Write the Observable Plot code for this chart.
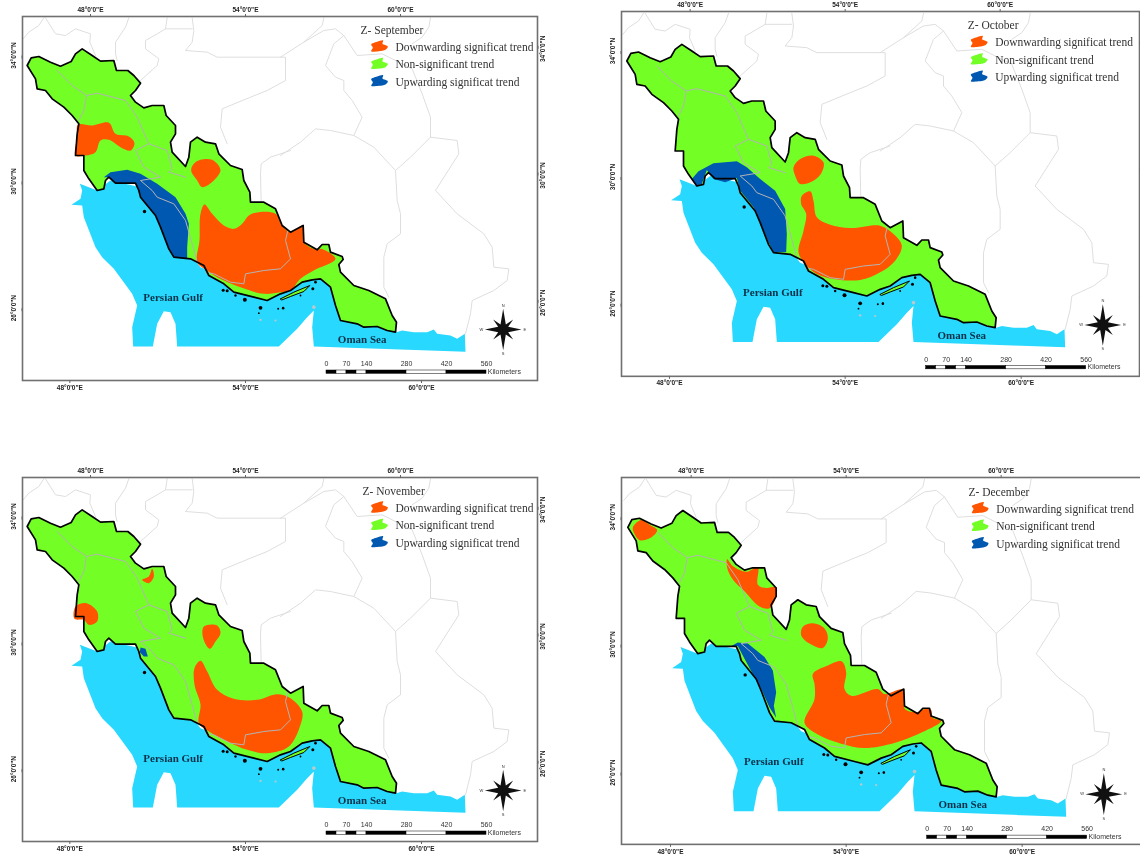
<!DOCTYPE html>
<html><head><meta charset="utf-8">
<script src="https://cdn.jsdelivr.net/npm/d3@7"></script>
<script src="https://cdn.jsdelivr.net/npm/@observablehq/plot@0.6"></script>
<style>
html,body{margin:0;padding:0;background:#fff;overflow:hidden;width:1140px;height:854px}
#page{position:relative;width:1140px;height:854px;overflow:hidden}
#page svg{position:absolute;overflow:visible;filter:blur(0.45px);background:transparent}
</style></head><body><div id="page"></div>
<script>
const months = ["September","October","November","December"];
const trendLabels = ["Downwarding significat trend","Non-significant trend","Upwarding significat trend"];
const trendColors = ["#ff5500","#73ff26","#0058b0"];
const gulfColor = "#29d8ff";

const province = [[80,195],[92,172],[115,168],[150,185],[180,197],[212,183],[225,160],[245,145],[275,165],[300,182],[340,180],[348,210],[382,210],[400,225],[420,248],[405,270],[390,285],[405,305],[430,322],[455,315],[490,315],[497,345],[525,375],[525,400],[510,425],[515,455],[555,498],[565,470],[570,425],[590,410],[615,425],[645,430],[655,460],[690,495],[725,507],[730,540],[748,575],[750,605],[790,605],[825,625],[845,675],[870,695],[908,675],[910,725],[950,748],[965,732],[985,732],[990,755],[1025,768],[1028,777],[1015,792],[1020,815],[1060,855],[1105,870],[1155,895],[1175,945],[1188,965],[1185,995],[1160,990],[1130,978],[1090,980],[1070,970],[1020,960],[1005,915],[990,860],[960,835],[935,838],[905,845],[870,870],[840,880],[800,900],[760,890],[700,875],[670,850],[625,825],[610,795],[570,775],[520,770],[505,745],[480,680],[465,645],[420,590],[415,570],[405,548],[380,548],[345,548],[325,530],[315,540],[310,565],[290,570],[265,535],[250,510],[250,465],[225,465],[230,400],[235,370],[215,345],[190,320],[155,295],[135,270],[110,265],[105,235]];
const qeshm = [[840,895],[880,875],[928,855],[910,873],[870,888],[845,898]];
const gulf = [[238,550],[290,570],[330,540],[420,560],[600,800],[800,880],[960,825],[1000,860],[1020,950],[1185,985],[1188,995],[1205,990],[1240,995],[1280,995],[1300,987],[1310,1000],[1350,1005],[1370,1015],[1393,1000],[1395,1054],[940,1038],[935,980],[940,930],[920,950],[890,985],[835,1038],[530,1038],[525,970],[510,935],[490,932],[470,970],[457,1038],[398,1038],[395,980],[410,915],[395,880],[340,805],[305,770],[285,740],[250,650],[245,615],[213,613],[240,595],[245,570]];
const islands = [[432,633,1.7],[668,869,1.5],[680,871,1.5],[705,885,1.2],[733,898,2],[780,922,1.9],[833,925,1],[848,923,1.3],[775,938,0.9],[945,845,1.3],[937,865,1.5],[900,885,0.9],[848,922,0.9]];
const grayIslands = [[780,958,1.2],[825,960,1.1],[940,920,1.8]];

const neighbours = [
 [[68,115],[85,95],[115,75],[130,52]],
 [[135,52],[165,100],[195,105],[225,85],[270,100],[268,125],[285,165]],
 [[385,52],[375,80],[345,125],[345,160],[350,180]],
 [[500,52],[495,85],[470,100],[435,120],[435,145],[475,175],[470,195],[420,240]],
 [[495,85],[575,85]],
 [[575,52],[580,90],[575,125],[555,150],[620,155],[650,170],[855,170],[855,240],[800,270],[750,290],[665,325],[660,380],[680,430]],
 [[870,450],[810,470],[782,490],[780,520],[782,605]],
 [[970,52],[965,75],[910,125],[840,170]],
 [[910,125],[970,90],[1005,85],[1030,105],[1000,130],[975,195],[1005,230],[1030,240],[1030,270],[1055,300],[1085,350],[1060,405]],
 [[1030,105],[1070,165],[1145,160],[1235,205],[1265,280],[1290,350],[1290,410],[1370,420],[1375,460],[1305,570],[1370,640],[1450,700],[1475,740],[1480,800],[1525,805],[1520,840],[1480,870],[1415,900],[1410,940],[1395,1000]],
 [[1290,52],[1285,80],[1265,110],[1235,130]],
 [[840,465],[900,425],[945,385],[990,390],[1060,405],[1120,440],[1185,510],[1190,600],[1200,640],[1200,700],[1160,730],[1150,770],[1150,860],[1165,890]],
 [[1185,510],[1230,470],[1290,410]]
];
const innerBorders = [
 [[170,210],[215,255],[258,285],[290,278],[375,300],[410,350],[445,430],[405,450],[430,500],[480,530],[420,540],[455,570],[470,590],[520,610],[555,660],[575,730],[590,785]],
 [[258,285],[250,330],[235,360]],
 [[445,430],[500,450],[515,505],[505,515],[555,530]],
 [[615,815],[640,820],[690,845],[730,850],[735,820],[790,810],[840,805],[870,775],[855,720],[862,690]]
];

const septemberDown = [
 [[232,373],[275,375],[325,367],[345,400],[385,408],[402,428],[390,450],[360,440],[325,418],[300,420],[285,455],[255,465],[225,465],[230,410]],
 [[580,490],[600,478],[635,478],[660,508],[640,540],[605,560],[590,540],[572,510]],
 [[612,612],[635,640],[670,675],[700,685],[725,670],[745,645],[775,635],[825,640],[845,675],[870,695],[908,675],[910,725],[950,748],[962,745],[1005,775],[940,810],[900,835],[870,870],[840,875],[790,880],[720,860],[650,830],[620,810],[590,785],[597,720],[600,640]]
];
const septemberUp = [[[310,530],[330,515],[380,508],[420,520],[470,550],[525,590],[555,640],[565,670],[560,740],[560,775],[520,770],[505,745],[480,680],[465,645],[420,590],[415,570],[405,548],[380,548],[345,548],[325,530]]];
const octoberDown = [
 [[580,514],[600,489],[640,479],[670,499],[665,529],[640,554],[600,564],[585,539]],
 [[605,599],[630,586],[640,614],[650,664],[690,686],[750,696],[840,689],[880,714],[905,749],[885,794],[840,829],[780,852],[700,849],[650,834],[615,804],[595,769],[610,704],[618,654],[603,624]]
];
const octoberUp = [[[275,549],[295,526],[340,502],[410,496],[440,514],[480,549],[525,584],[555,639],[560,714],[558,769],[520,769],[505,739],[480,679],[460,634],[420,584],[410,546],[375,559],[340,549],[320,522],[305,564],[290,569]]];
const novemberDown = [
 [[455,322],[460,345],[445,365],[425,355],[445,345]],
 [[225,435],[258,425],[290,450],[290,480],[265,490],[250,475],[222,472]],
 [[610,495],[650,492],[660,515],[645,540],[628,562],[608,530]],
 [[600,598],[620,630],[650,685],[700,712],[770,715],[830,698],[870,710],[905,750],[900,790],[865,855],[800,875],[740,865],[680,840],[625,810],[595,785],[600,730],[582,670],[582,620]]
];
const novemberUp = [[[420,558],[435,562],[442,585],[430,585],[418,572]]];
const decemberDown = [
 [[95,195],[120,173],[145,187],[168,203],[150,225],[115,233],[100,215]],
 [[378,290],[395,310],[435,327],[470,313],[470,365],[495,375],[525,373],[525,400],[505,435],[475,430],[430,385],[395,350],[378,315]],
 [[605,490],[635,480],[670,495],[680,525],[665,553],[625,540],[600,515]],
 [[635,630],[680,605],[722,593],[735,625],[730,675],[750,695],[830,675],[850,690],[905,677],[912,735],[950,743],[968,735],[990,737],[995,760],[1020,770],[960,805],[880,835],[790,850],[720,837],[650,810],[610,775],[640,705],[640,660]]
];
const decemberUp = [[[385,550],[410,537],[440,540],[490,580],[515,620],[525,685],[518,725],[525,760],[505,730],[480,675],[460,640],[430,585],[410,547]]];

const topTicks = [270,735,1200], bottomTicks = [208,735,1263];
const leftTicks = [165,543,923], rightTicks = [145,525,907];
const lonLabels = ['48°0\'0"E','54°0\'0"E','60°0\'0"E'];
const latLabels = ['34°0\'0"N','30°0\'0"N','26°0\'0"N'];

const scaleKm = [0,70,140,280,420,560];
const scaleSegments = [[0,35,"#000"],[35,70,"#fff"],[70,105,"#000"],[105,140,"#fff"],[140,280,"#000"],[280,420,"#fff"],[420,560,"#000"]];
const swatchShape = [[272,152],[277,141],[272,132],[290,124],[308,120],[306,130],[322,138],[315,148],[295,152]];
const compassStar = [[0,-62],[8,-15],[30,-30],[15,-8],[55,0],[15,8],[30,30],[8,15],[0,62],[-8,15],[-30,30],[-15,8],[-55,0],[-15,-8],[-30,-30],[-8,-15]];
const compassLetters = [["N",0,-72],["E",65,0],["S",0,72],["W",-65,0]];

// page offset of the sheet, vertical stretch, frame in sheet units, legend title position.
// The right-hand latitude labels of the two right panels fall outside the picture in the reference.
const layout = [
 {ox:0,     oy:0,     sy:1,      L:66, T:48,   R:1611, B:1140, titleX:1080, titleY:90, rightLabels:true,  down:septemberDown, up:septemberUp},
 {ox:599.5, oy:-4.5,  sy:1,      L:64, T:46.5, R:1618, B:1141, titleX:1103, titleY:88, rightLabels:false, down:octoberDown,   up:octoberUp},
 {ox:0,     oy:460.5, sy:1,      L:66, T:48,   R:1611, B:1140, titleX:1086, titleY:90, rightLabels:true,  down:novemberDown,  up:novemberUp},
 {ox:600.5, oy:461.3, sy:1.0107, L:61, T:47,   R:1625, B:1136, titleX:1102, titleY:90, rightLabels:false, down:decemberDown,  up:decemberUp}
];

const X = d => d[0], Y = d => d[1];
const tick = (labels, ticks) => v => labels[ticks.indexOf(v)];
const kmX = km => 978 + km * 480 / 560;
const tickFont = {fontSize:6.5, fontWeight:"bold", fill:"#222", tickSize:3, stroke:"#666"};
const M = 30;

const page = document.getElementById("page");
layout.forEach((p, i) => {
  const width = (p.R - p.L) / 3 + 2 * M, height = (p.B - p.T) / 3 * p.sy + 2 * M;
  const fillShape = (pts, color, curve) => Plot.line(pts, {x:X, y:Y, fill:color, stroke:"none", curve});
  const plot = Plot.plot({
    width, height, margin:M,
    style:{background:"transparent", fontFamily:"'Liberation Sans',sans-serif"},
    x:{domain:[p.L,p.R]}, y:{domain:[p.B,p.T]}, r:{type:"identity"},
    marks:[
      ...neighbours.map(n => Plot.line(n, {x:X, y:Y, stroke:"#dedede", strokeWidth:1})),
      fillShape(gulf, gulfColor, "linear-closed"),
      fillShape(province, trendColors[1], "linear-closed"),
      ...p.down.map(r => fillShape(r, trendColors[0], "catmull-rom-closed")),
      ...p.up.map(r => fillShape(r, trendColors[2], "linear-closed")),
      ...innerBorders.map(n => Plot.line(n, {x:X, y:Y, stroke:"#b4b4b4", strokeWidth:1})),
      Plot.line(province, {x:X, y:Y, stroke:"#000", strokeWidth:1.7, curve:"linear-closed"}),
      Plot.line(qeshm, {x:X, y:Y, fill:trendColors[1], stroke:"#000", strokeWidth:1, curve:"linear-closed"}),
      Plot.dot(islands, {x:X, y:Y, r:d => d[2], fill:"#000"}),
      Plot.dot(grayIslands, {x:X, y:Y, r:d => d[2], fill:"#b8c8cc"}),
      Plot.text(["Persian Gulf"], {x:[518], y:[890], text:d=>d, fontFamily:"'Liberation Serif',serif", fontWeight:"bold", fontSize:11, fill:"#083048"}),
      Plot.text(["Oman Sea"], {x:[1085], y:[1017], text:d=>d, fontFamily:"'Liberation Serif',serif", fontWeight:"bold", fontSize:11, fill:"#083048"}),
      // legend
      Plot.text(["Z- " + months[i]], {x:[p.titleX], y:[p.titleY], text:d=>d, textAnchor:"start", fontFamily:"'Liberation Serif',serif", fontSize:11.5, fill:"#333"}),
      ...trendLabels.map((t, k) => Plot.line(swatchShape.map(([a,b]) => [a + 840, b + 52 * k]), {x:X, y:Y, fill:trendColors[k], stroke:"none", curve:"catmull-rom-closed"})),
      Plot.text(trendLabels, {x:() => 1185, y:(d,k) => 140 + 52 * k, text:d=>d, textAnchor:"start", fontFamily:"'Liberation Serif',serif", fontSize:11.5, fill:"#333"}),
      // scale bar
      Plot.rect(scaleSegments, {x1:d => kmX(d[0]), x2:d => kmX(d[1]), y1:()=>1110, y2:()=>1120, fill:d => d[2], stroke:"#000", strokeWidth:0.5}),
      Plot.text(scaleKm, {x:d => kmX(d), y:()=>1090, text:String, fontSize:7, fill:"#333"}),
      Plot.text(["Kilometers"], {x:[1462], y:[1113], text:d=>d, textAnchor:"start", fontSize:7, fill:"#333"}),
      // compass
      Plot.line(compassStar.map(([a,b]) => [a + 1508, b + 987]), {x:X, y:Y, fill:"#111", stroke:"none", curve:"linear-closed"}),
      Plot.text(compassLetters, {x:d => d[1] + 1508, y:d => d[2] + 987, text:d => d[0], fontSize:4, fill:"#333"}),
      // frame and graticule ticks
      Plot.frame({stroke:"#707070", strokeWidth:1.6}),
      Plot.axisX(topTicks, {anchor:"top", tickFormat:tick(lonLabels, topTicks), label:null, tickPadding:1.5, ...tickFont}),
      Plot.axisX(bottomTicks, {anchor:"bottom", tickFormat:tick(lonLabels, bottomTicks), label:null, tickPadding:1.5, ...tickFont}),
      Plot.axisY(leftTicks, {anchor:"left", tickFormat:tick(latLabels, leftTicks), label:null, rotate:-90, textAnchor:"middle", ...tickFont}),
      Plot.axisY(rightTicks, {anchor:"right", tickFormat:p.rightLabels ? tick(latLabels, rightTicks) : () => "", label:null, rotate:-90, textAnchor:"middle", tickPadding:2.5, ...tickFont})
    ]
  });
  plot.style.left = (p.ox + p.L / 3 - M) + "px";
  plot.style.top = (p.oy + p.T / 3 * p.sy - M) + "px";
  page.appendChild(plot);
});
</script></body></html>
